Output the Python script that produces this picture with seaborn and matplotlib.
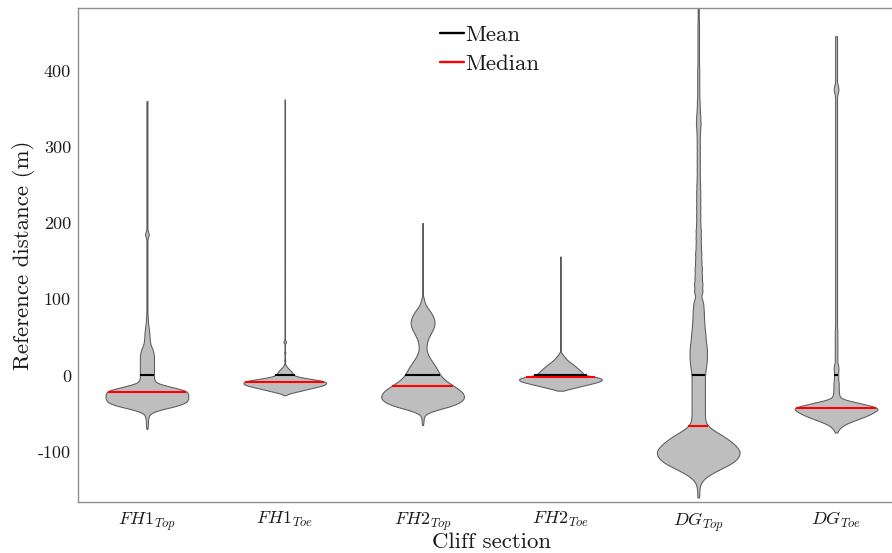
import numpy as np
import pandas as pd
import matplotlib
matplotlib.use("Agg")
import matplotlib.pyplot as plt
from matplotlib.lines import Line2D
import seaborn as sns

# ---------------- data ----------------
categories = ["FH1_Top", "FH1_Toe", "FH2_Top", "FH2_Toe", "DG_Top", "DG_Toe"]
tick_labels = [r"$FH1_{Top}$", r"$FH1_{Toe}$", r"$FH2_{Top}$",
               r"$FH2_{Toe}$", r"$DG_{Top}$", r"$DG_{Toe}$"]

mean_values = [0, 0, 0, 0, 0, 0]
median_values = [-22, -9, -14, -2.2, -66.5, -43.3]

# reconstructed distributions: value bins and their counts
fh1_top_vals = [-70, -65, -60, -55, -50, -45, -40, -35, -30, -25, -20, -15, -10, -5, 0,
                5, 10, 15, 20, 25, 30, 35, 40, 45, 50, 55, 60, 65, 70,
                75, 80, 85, 90, 95, 100, 105, 110, 115, 120, 125, 130, 135, 140,
                145, 150, 155, 160, 165, 170, 175, 180, 185, 190, 195, 200, 205,
                210, 215, 220, 225, 230, 235, 240, 245, 250, 255, 260, 265, 270,
                275, 280, 285, 290, 295, 300, 305, 310, 315, 320, 325, 330, 335,
                340, 345, 350, 355, 360]
fh1_top_counts = [1, 2, 2, 3, 5, 25, 60, 80, 82, 82, 80, 48, 18, 14, 14,
                  14, 14, 14, 14, 14, 13, 11, 7, 6, 5, 5, 4, 3, 2,
                  2, 1, 1, 1, 1, 1, 1, 1, 1, 1, 1, 1, 1, 1,
                  1, 1, 1, 1, 1, 1, 1, 1, 5, 1, 1, 1, 1,
                  1, 1, 1, 1, 1, 1, 1, 1, 1, 1, 1, 1, 1,
                  1, 1, 1, 1, 1, 1, 1, 1, 1, 1, 1, 1, 1,
                  1, 1, 1, 1, 1]

fh1_toe_vals = [-26, -24, -22, -20, -18, -16, -14, -12, -10, -8, -6, -4, -2, 0,
                2, 4, 6, 8, 10, 12, 14, 20, 30, 44, 50, 60, 70, 80, 90, 100, 110,
                120, 130, 140, 150, 160, 170, 180, 190, 200, 210, 220, 230, 240,
                250, 260, 270, 280, 290, 300, 310, 320, 330, 340, 350, 362]
fh1_toe_counts = [1, 6, 19, 32, 44, 57, 70, 80, 82, 81, 66, 46, 28, 18,
                  16, 14, 12, 9, 6, 3, 2, 2, 2, 5, 1, 1, 1, 1, 1, 1, 1,
                  1, 1, 1, 1, 1, 1, 1, 1, 1, 1, 1, 1, 1,
                  1, 1, 1, 1, 1, 1, 1, 1, 1, 1, 1, 1]

fh2_top_vals = [-65, -60, -55, -50, -45, -40, -35, -30, -25, -20, -15, -10, -5, 0,
                5, 10, 15, 20, 25, 30, 35, 40, 45, 50, 55, 60, 65, 70, 75, 80,
                85, 90, 95, 100, 110, 120, 130, 140, 150, 160, 170, 180, 190, 200]
fh2_top_counts = [1, 2, 2, 5, 28, 58, 75, 82, 81, 75, 64, 52, 42, 35,
                  31, 27, 22, 17, 12, 9, 7, 8, 9, 12, 16, 20, 23, 24, 22, 19,
                  14, 8, 4, 3, 1, 1, 1, 1, 1, 1, 1, 1, 1, 1]

fh2_toe_vals = [-20, -18, -16, -14, -12, -10, -8, -6, -4, -2, 0, 2, 4, 6, 8, 10,
                12, 14, 16, 18, 20, 22, 24, 26, 28, 30, 40, 50, 60, 70, 80, 90,
                100, 110, 120, 130, 140, 150, 156]
fh2_toe_counts = [4, 16, 29, 41, 54, 66, 79, 83, 83, 72, 49, 46, 43, 40, 37, 33,
                  30, 26, 22, 18, 14, 11, 9, 6, 4, 2, 1, 1, 1, 1, 1, 1,
                  1, 1, 1, 1, 1, 1, 1]

dg_top_vals = [-160, -155, -150, -145, -140, -135, -130, -125, -120, -115, -110,
               -105, -100, -95, -90, -85, -80, -75, -70, -65, -60, -55, -50, -45,
               -40, -35, -30, -25, -20, -15, -10, -5, 0, 5, 10, 15, 20, 25, 30,
               35, 40, 45, 50, 55, 60, 65, 70, 75, 80, 85, 90, 95, 100,
               110, 120, 130, 140, 150, 160, 170, 180, 190, 200, 210, 220, 230,
               240, 250, 260, 270, 280, 290, 300, 310, 320, 330, 340, 350, 360,
               370, 380, 390, 400, 410, 420, 430, 440, 450, 460, 470, 480, 490, 500]
dg_top_counts = [2, 2, 2, 3, 5, 12, 22, 36, 52, 67, 76,
                 81, 83, 78, 70, 62, 50, 38, 25, 16, 14, 13, 13, 13,
                 13, 13, 13, 13, 13, 13, 13, 13, 13, 14, 15, 16, 17, 17, 17,
                 17, 16, 15, 14, 14, 13, 12, 12, 11, 11, 11, 10, 10, 9,
                 16, 16, 14, 14, 12, 12, 10, 10, 10, 8, 8, 8, 8,
                 8, 7, 6, 6, 6, 6, 6, 6, 7, 9, 8, 6, 5,
                 4, 4, 4, 4, 3, 3, 3, 3, 3, 3, 2, 2, 2, 2]

dg_toe_vals = [-75, -72, -69, -66, -63, -60, -57, -54, -51, -48, -45, -42, -39,
               -36, -33, -30, -27, -24, -21, -18, -15, -12, -9, -6, -3, 0, 3, 6,
               9, 12, 15, 20, 25, 30, 35, 40, 45, 50, 55, 60, 65, 70, 75, 80, 85,
               90, 95, 100, 105, 110, 115, 120, 125, 130, 135, 140, 145, 150, 155,
               160, 165, 170, 175, 180, 185, 190, 195, 200, 205, 210, 215, 220,
               225, 230, 235, 240, 245, 250, 255, 260, 265, 270, 275, 280, 285,
               290, 295, 300, 305, 310, 315, 320, 325, 330, 335, 340, 345, 350,
               355, 360, 365, 370, 375, 380, 385, 390, 395, 400, 405, 410, 415,
               420, 425, 430, 435, 440, 445]
dg_toe_counts = [2, 4, 7, 12, 20, 31, 43, 55, 64, 72, 80, 82, 60,
                 45, 22, 8, 6, 6, 5, 5, 5, 5, 5, 4, 4, 4, 4, 4,
                 5, 4, 4, 4, 4, 4, 4, 4, 4, 4, 4, 4, 3, 3, 3, 3, 3,
                 3, 3, 3, 3, 3, 3, 3, 3, 3, 3, 3, 3, 3, 3,
                 3, 3, 3, 3, 3, 3, 3, 3, 3, 3, 3, 3, 3,
                 3, 3, 3, 3, 3, 3, 3, 3, 3, 3, 3, 3, 3,
                 3, 3, 3, 3, 3, 3, 3, 3, 3, 3, 3, 3, 3,
                 3, 3, 3, 5, 8, 6, 3, 3, 3, 3, 3, 3, 3,
                 3, 3, 3, 3, 3, 3]

group_vals = [fh1_top_vals, fh1_toe_vals, fh2_top_vals, fh2_toe_vals, dg_top_vals, dg_toe_vals]
group_counts = [fh1_top_counts, fh1_toe_counts, fh2_top_counts, fh2_toe_counts,
                dg_top_counts, dg_toe_counts]
kde_sigma = [3.0, 1.5, 3.5, 1.5, 4.5, 2.5]   # smoothing (value units)

yticks = [-100, 0, 100, 200, 300, 400]

# ---------------- style ----------------
sns.set_theme(style="white")
plt.rcParams["font.family"] = ["cmr10", "DejaVu Serif"]
plt.rcParams["mathtext.fontset"] = "cm"
plt.rcParams["axes.unicode_minus"] = False
plt.rcParams["axes.formatter.use_mathtext"] = False

fill_col = "#bebebe"
edge_col = "#5a5a5a"
spine_col = "#8f8f8f"
text_col = "#1a1a1a"

fig = plt.figure(figsize=(8.92, 5.53), dpi=100)
ax = fig.add_axes([78 / 892, 51 / 553, 827 / 892, 494 / 553])

for i, cat in enumerate(categories):
    samples = np.repeat(np.asarray(group_vals[i], float), group_counts[i])
    df = pd.DataFrame({
        "section": pd.Categorical([cat] * len(samples), categories=categories),
        "distance": samples,
    })
    factor = kde_sigma[i] / samples.std(ddof=1)
    n_before = len(ax.collections)
    sns.violinplot(data=df, x="section", y="distance", order=categories,
                   color=fill_col, saturation=1, linecolor=edge_col, linewidth=0.75,
                   inner=None, density_norm="width", width=0.6, cut=0,
                   gridsize=800, bw_method=factor, ax=ax)
    poly = ax.collections[n_before]
    verts = poly.get_paths()[0].vertices
    right = verts[verts[:, 0] > i + 1e-9]
    order_idx = np.argsort(right[:, 1])
    ry, rx = right[order_idx, 1], right[order_idx, 0]

    for val, col in ((mean_values[i], "black"), (median_values[i], "#ff0000")):
        hw = (np.interp(val, ry, rx) - i) * 0.97
        ax.plot([i - hw, i + hw], [val, val], color=col, lw=1.5,
                solid_capstyle="butt", zorder=4)

ax.set_xlim(-0.5, 5.5)
ax.set_ylim(-166, 482)
ax.set_yticks(yticks)
ax.set_yticklabels([str(t) for t in yticks])
ax.set_xticks(range(len(categories)))
ax.set_xticklabels(tick_labels)
ax.tick_params(axis="both", length=0, labelsize=13, colors=text_col)
ax.tick_params(axis="y", pad=5)
ax.tick_params(axis="x", pad=6)

ax.set_xlabel("Cliff section", fontsize=16.5, labelpad=-1, color=text_col)
ax.set_ylabel("Reference distance (m)", fontsize=16.5, labelpad=2, color=text_col)

for side in ("left", "bottom", "top", "right"):
    ax.spines[side].set_color(spine_col)
    ax.spines[side].set_linewidth(1.0)

handles = [Line2D([], [], color="black", lw=1.7), Line2D([], [], color="#ff0000", lw=1.7)]
leg = ax.legend(handles, ["Mean", "Median"], loc="upper left",
                bbox_to_anchor=((440 - 78) / 827, 0.965), frameon=False,
                handlelength=1.05, handletextpad=0.03, labelspacing=0.38,
                borderpad=0, borderaxespad=0, fontsize=16.5)
for t in leg.get_texts():
    t.set_color(text_col)

fig.savefig("out.png", dpi=100)
